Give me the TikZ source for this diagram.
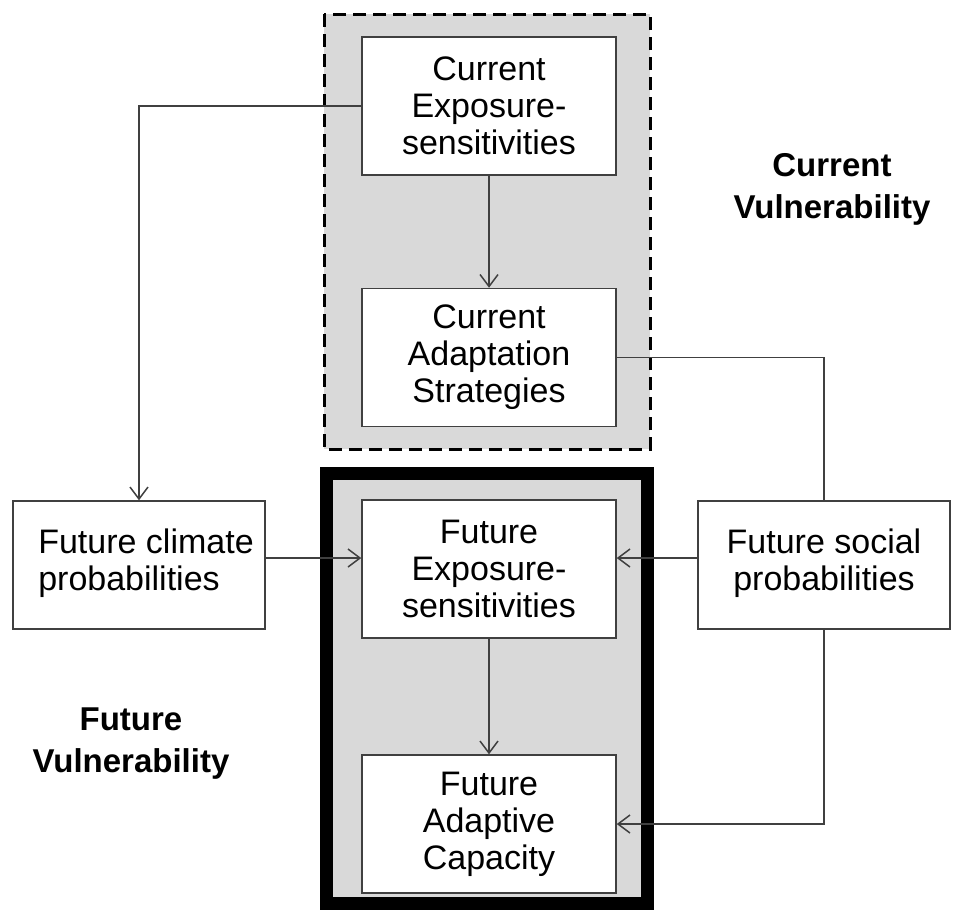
\documentclass[tikz,border=0pt]{standalone}
\usepackage{fontspec}
\setmainfont{Liberation Sans}
\usetikzlibrary{arrows.meta}
\definecolor{panel}{HTML}{D9D9D9}
\definecolor{edge}{HTML}{404040}
\begin{document}
\begin{tikzpicture}[x=1pt,y=-1pt,
  stepbox/.style={draw=edge,line width=1.5pt,fill=white,rectangle,inner sep=0pt,
    minimum width=254pt,minimum height=138pt,align=center,
    font=\fontsize{34}{37}\selectfont},
  sidebox/.style={stepbox,minimum width=252pt,minimum height=128pt},
  link/.style={draw=edge,line width=1.5pt},
  arr/.style={link,-{Straight Barb[length=12pt,width=18pt,line width=1.5pt]}},
  lab/.style={align=center,font=\fontsize{33}{42}\selectfont\bfseries}]
\useasboundingbox (0,0) rectangle (953,911);
% panels
\path[fill=panel,draw=black,line width=3pt,dash pattern=on 13pt off 7pt] (324,14) rectangle (650,449);
\path[fill=panel,draw=black,line width=13pt] (326.5,473.5) rectangle (647.5,903.5);
% nodes
\node[stepbox] (CES) at (489,106) {Current\\Exposure-\\sensitivities};
\node[stepbox] (CAS) at (489,357.5) {Current\\Adaptation\\Strategies};
\node[stepbox] (FES) at (489,569) {Future\\Exposure-\\sensitivities};
\node[stepbox] (FAC) at (489,824) {Future\\Adaptive\\Capacity};
\node[sidebox] (clim) at (139,565) {\hspace*{14pt}\raisebox{7pt}{\begin{tabular}{@{}l@{}}Future climate\\probabilities\end{tabular}}};
\node[sidebox] (soc) at (824,565) {\raisebox{7pt}{\begin{tabular}{@{}c@{}}Future social\\probabilities\end{tabular}}};
\node[lab] (cv) at (832,189) {Current\\Vulnerability};
\node[lab] (fv) at (131,744) {Future\\Vulnerability};
\coordinate (mid) at (0,558);
% connectors
\draw[arr] (CES.west) -| (clim.north);
\draw[arr] (CES.south) -- (CAS.north);
\draw[link] (CAS.east) -| (soc.north);
\draw[arr] (clim.east |- mid) -- (FES.west |- mid);
\draw[arr] (soc.west |- mid) -- (FES.east |- mid);
\draw[arr] (FES.south) -- (FAC.north);
\draw[arr] (soc.south) |- (FAC.east);
\end{tikzpicture}
\end{document}
